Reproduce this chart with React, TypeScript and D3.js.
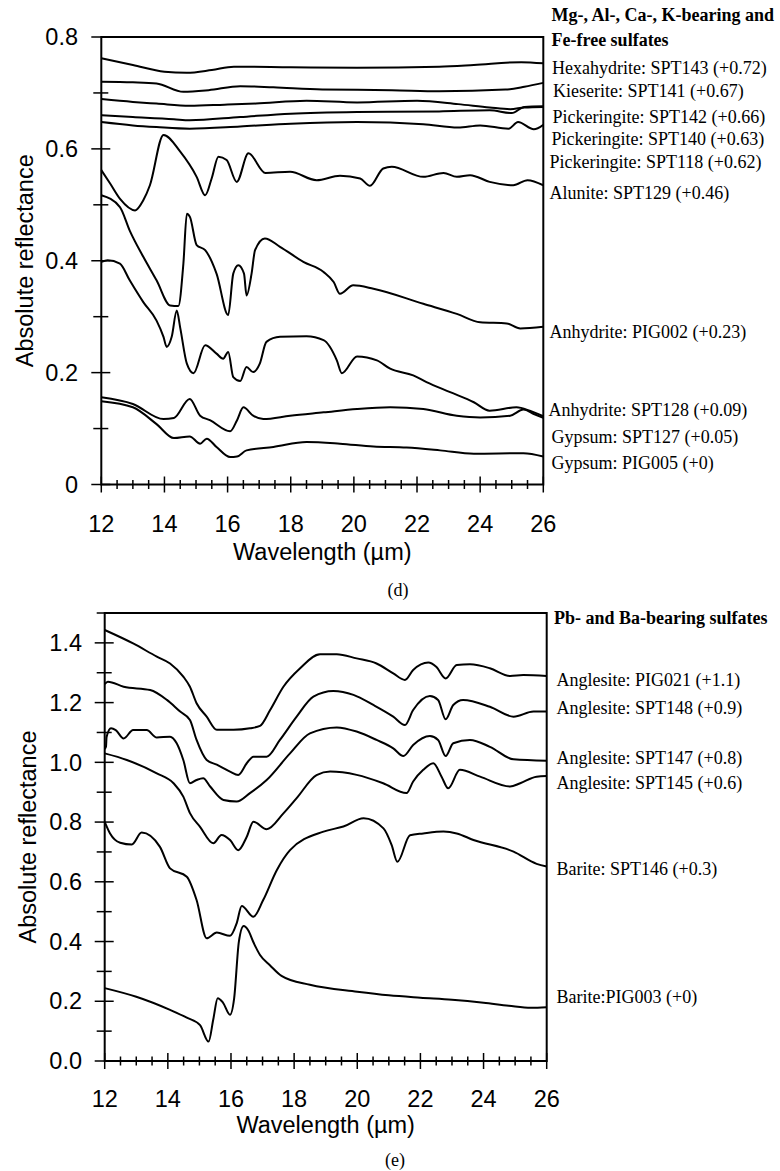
import React from "react";
import * as d3 from "d3";

type P = [number, number];

// ---------- Panel (d) data: wavelength (µm), reflectance (offset included) ----------
const hexahydriteSPT143: P[] = [[12,0.762],[13,0.750],[14,0.738],[14.7,0.736],[15.5,0.741],[16.2,0.747],[18,0.746],[20.1,0.745],[22.7,0.747],[23.8,0.750],[25.3,0.755],[26,0.753]];
const kieseriteSPT141: P[] = [[12,0.720],[13,0.719],[13.75,0.717],[14.6,0.702],[15.4,0.705],[16.4,0.712],[17.45,0.710],[19,0.706],[21.2,0.705],[22.7,0.703],[24.8,0.706],[25.4,0.711],[26,0.718]];
const pickeringiteSPT142: P[] = [[12,0.689],[13,0.684],[13.75,0.681],[14.8,0.677],[15.9,0.679],[16.9,0.681],[18.5,0.686],[20.1,0.683],[22,0.686],[23.3,0.680],[24.3,0.674],[24.95,0.671],[25.4,0.674],[26,0.675]];
const pickeringiteSPT140: P[] = [[12,0.660],[13,0.657],[14.3,0.653],[14.8,0.651],[16.4,0.657],[18,0.663],[20.1,0.666],[22.7,0.667],[24.3,0.669],[25,0.664],[25.4,0.675],[26,0.676]];
const pickeringiteSPT118: P[] = [[12,0.648],[13,0.642],[13.75,0.639],[14.8,0.636],[16.4,0.640],[18,0.645],[20.1,0.648],[22.2,0.644],[23.3,0.638],[24,0.642],[24.9,0.636],[25.2,0.648],[25.7,0.635],[26,0.643]];
const aluniteSPT129: P[] = [[12,0.562],[12.28,0.538],[12.6,0.510],[13.07,0.490],[13.33,0.508],[13.54,0.535],[13.97,0.625],[14.5,0.595],[15.02,0.550],[15.29,0.517],[15.5,0.548],[15.71,0.586],[15.97,0.580],[16.29,0.541],[16.66,0.592],[17.2,0.557],[17.98,0.559],[18.82,0.544],[19.56,0.552],[20.2,0.547],[20.51,0.534],[20.93,0.565],[21.2,0.568],[22.2,0.550],[22.84,0.557],[23.26,0.550],[23.68,0.553],[24.3,0.541],[25.05,0.535],[25.5,0.544],[26,0.535]];
const anhydritePIG002: P[] = [[12,0.517],[12.59,0.496],[12.9,0.454],[13.33,0.407],[13.75,0.365],[14.18,0.320],[14.44,0.319],[14.6,0.395],[14.71,0.484],[14.81,0.478],[15.02,0.428],[15.29,0.419],[15.65,0.377],[16.02,0.303],[16.18,0.377],[16.34,0.392],[16.52,0.377],[16.6,0.338],[16.76,0.377],[16.87,0.419],[17.18,0.440],[17.66,0.425],[18.4,0.398],[19.04,0.380],[19.36,0.362],[19.56,0.341],[19.98,0.356],[20.62,0.350],[22.2,0.323],[23.26,0.305],[24,0.290],[24.84,0.288],[25.27,0.279],[26,0.282]];
const anhydriteSPT128: P[] = [[12,0.398],[12.2,0.401],[12.59,0.395],[12.9,0.365],[13.33,0.326],[13.75,0.293],[13.97,0.264],[14.07,0.246],[14.23,0.264],[14.39,0.311],[14.5,0.280],[14.71,0.216],[14.92,0.199],[15.29,0.249],[15.65,0.234],[15.86,0.225],[16.02,0.237],[16.18,0.192],[16.4,0.185],[16.6,0.210],[16.81,0.201],[17.02,0.216],[17.23,0.255],[17.66,0.264],[18.5,0.265],[19.04,0.258],[19.46,0.222],[19.62,0.199],[20.1,0.229],[20.73,0.222],[21.15,0.207],[21.88,0.195],[22.3,0.183],[23.05,0.165],[23.8,0.147],[24.3,0.132],[25.15,0.138],[25.57,0.132],[26,0.122]];
const gypsumSPT127: P[] = [[12,0.156],[13,0.144],[13.97,0.117],[14.3,0.119],[14.8,0.153],[15.13,0.123],[15.44,0.115],[16.08,0.095],[16.3,0.115],[16.5,0.138],[16.81,0.123],[17.13,0.117],[17.98,0.123],[19.04,0.129],[20.1,0.135],[21.15,0.138],[22.2,0.135],[23.26,0.123],[24,0.120],[24.95,0.123],[25.37,0.134],[25.7,0.126],[26,0.119]];
const gypsumPIG005: P[] = [[12,0.149],[13,0.138],[13.75,0.108],[14.3,0.083],[14.8,0.086],[15.13,0.073],[15.34,0.082],[15.65,0.067],[16.08,0.049],[16.3,0.050],[16.6,0.061],[17.45,0.067],[18.5,0.076],[19.56,0.073],[20.62,0.068],[21.67,0.066],[22.73,0.061],[23.8,0.055],[25.37,0.056],[26,0.050]];

const seriesD = [hexahydriteSPT143, kieseriteSPT141, pickeringiteSPT142, pickeringiteSPT140, pickeringiteSPT118, aluniteSPT129, anhydritePIG002, anhydriteSPT128, gypsumSPT127, gypsumPIG005];
const titleD = ["Mg-, Al-, Ca-, K-bearing and", "Fe-free sulfates"];
const labelsD = ["Hexahydrite: SPT143 (+0.72)", "Kieserite: SPT141 (+0.67)", "Pickeringite: SPT142 (+0.66)", "Pickeringite: SPT140 (+0.63)", "Pickeringite: SPT118 (+0.62)", "Alunite: SPT129 (+0.46)", "Anhydrite: PIG002 (+0.23)", "Anhydrite: SPT128 (+0.09)", "Gypsum: SPT127 (+0.05)", "Gypsum: PIG005 (+0)"];
const labelYD = [68, 91, 117, 139, 162, 193, 332, 410, 437, 463];
const labelXD = [552, 553, 552.5, 551.5, 549.5, 549.5, 549.5, 548.5, 551.5, 551.5];
const yTicksD = [0, 0.2, 0.4, 0.6, 0.8];

// ---------- Panel (e) data ----------
const anglesitePIG021: P[] = [[12,1.443],[12.9,1.398],[13.65,1.354],[14.07,1.331],[14.49,1.287],[14.7,1.253],[14.91,1.198],[15.23,1.153],[15.55,1.109],[16.08,1.109],[16.6,1.114],[16.92,1.122],[17.24,1.175],[17.66,1.253],[18.19,1.315],[18.82,1.362],[19.35,1.362],[19.98,1.348],[20.61,1.331],[21.14,1.298],[21.51,1.276],[21.77,1.309],[22.25,1.334],[22.5,1.320],[22.8,1.281],[23.15,1.326],[23.57,1.328],[24.2,1.315],[24.84,1.289],[25.26,1.292],[26,1.289]];
const anglesiteSPT148: P[] = [[12,1.262],[12.1,1.270],[12.6,1.253],[13.44,1.242],[13.97,1.209],[14.39,1.170],[14.7,1.142],[14.91,1.075],[15.23,1.008],[15.55,0.992],[15.97,0.969],[16.23,0.958],[16.5,0.997],[16.71,1.019],[17.13,1.019],[17.55,1.075],[18.08,1.153],[18.61,1.220],[19.24,1.239],[19.88,1.226],[20.51,1.192],[21.14,1.153],[21.51,1.125],[21.77,1.175],[22.3,1.222],[22.56,1.209],[22.8,1.144],[23.04,1.192],[23.35,1.209],[24.2,1.186],[24.95,1.153],[25.58,1.170],[26,1.170]];
const anglesiteSPT147: P[] = [[12,1.045],[12.04,1.052],[12.06,1.085],[12.2,1.114],[12.35,1.108],[12.6,1.080],[12.9,1.108],[13.33,1.108],[13.65,1.083],[14.07,1.086],[14.28,1.064],[14.49,1.008],[14.7,0.930],[14.91,0.941],[15.12,0.947],[15.34,0.919],[15.76,0.874],[16.18,0.869],[16.6,0.897],[17.13,0.941],[17.87,1.030],[18.5,1.097],[19.35,1.117],[19.98,1.103],[20.61,1.075],[21.14,1.047],[21.46,1.021],[21.77,1.058],[22.3,1.088],[22.56,1.075],[22.8,1.021],[23.04,1.064],[23.57,1.075],[24.2,1.052],[24.95,1.010],[26,1.005]];
const anglesiteSPT145: P[] = [[12,1.030],[12.7,1.008],[13.65,0.963],[14.18,0.930],[14.49,0.885],[14.7,0.830],[15.02,0.784],[15.44,0.729],[15.7,0.757],[15.97,0.740],[16.23,0.706],[16.5,0.751],[16.71,0.801],[17.13,0.776],[17.66,0.829],[18.08,0.880],[18.71,0.957],[19.14,0.969],[19.98,0.958],[20.82,0.930],[21.56,0.897],[21.77,0.936],[22.09,0.975],[22.41,0.997],[22.67,0.952],[22.88,0.913],[23.25,0.975],[23.89,0.952],[24.84,0.919],[25.16,0.930],[25.68,0.952],[26,0.954]];
const bariteSPT146: P[] = [[12,0.801],[12.17,0.762],[12.49,0.731],[12.86,0.725],[13.17,0.765],[13.75,0.717],[14.07,0.645],[14.6,0.617],[14.91,0.539],[15.23,0.411],[15.55,0.430],[15.97,0.419],[16.18,0.461],[16.34,0.519],[16.71,0.483],[17.02,0.539],[17.45,0.639],[17.87,0.706],[18.93,0.768],[19.56,0.785],[20.2,0.813],[20.83,0.779],[21.09,0.723],[21.27,0.667],[21.67,0.756],[22.09,0.762],[22.73,0.768],[23.15,0.762],[23.68,0.740],[24.95,0.701],[25.68,0.660],[26,0.651]];
const baritePIG003: P[] = [[12,0.244],[13,0.215],[14.07,0.171],[14.6,0.145],[15.02,0.120],[15.29,0.065],[15.44,0.140],[15.58,0.210],[15.75,0.195],[15.97,0.155],[16.1,0.210],[16.25,0.400],[16.4,0.452],[16.55,0.437],[16.7,0.400],[16.92,0.355],[17.24,0.320],[17.6,0.285],[18.5,0.255],[20,0.232],[21,0.220],[22,0.212],[23,0.205],[24,0.195],[24.8,0.185],[25.5,0.178],[26,0.180]];

const seriesE = [anglesitePIG021, anglesiteSPT148, anglesiteSPT147, anglesiteSPT145, bariteSPT146, baritePIG003];
const titleE = ["Pb- and Ba-bearing sulfates"];
const labelsE = ["Anglesite: PIG021 (+1.1)", "Anglesite: SPT148 (+0.9)", "Anglesite: SPT147 (+0.8)", "Anglesite: SPT145 (+0.6)", "Barite: SPT146 (+0.3)", "Barite:PIG003 (+0)"];
const labelYE = [680, 708, 758, 783, 869, 997];
const yTicksE = [0, 0.2, 0.4, 0.6, 0.8, 1.0, 1.2, 1.4];

const xTicks = [12, 14, 16, 18, 20, 22, 24, 26];

const SANS = "'Liberation Sans', Arial, sans-serif";
const SERIF = "'Liberation Serif', 'Times New Roman', serif";

type PanelProps = {
  x0: number; x1: number; yTop: number; yBot: number; yMax: number; yMinorStep: number;
  series: P[][]; yTicks: number[]; yFmt: (v: number) => string;
  tickLabelBase: number; xTitleBase: number; capBase: number; cap: string; capX: number;
  yLabelRight: number; yTitleX: number;
  title: string[]; titleY: number[]; titleX: number;
  labels: string[]; labelY: number[]; labelX: number[];
};

function Panel(p: PanelProps) {
  const x = d3.scaleLinear().domain([12, 26]).range([p.x0, p.x1]);
  const y = d3.scaleLinear().domain([0, p.yMax]).range([p.yBot, p.yTop]);
  const line = d3.line<P>().x(d => x(d[0])).y(d => y(d[1])).curve(d3.curveMonotoneX);
  const xMinor = d3.range(12, 26.001, 0.5);
  const yMinor = d3.range(0, p.yMax + 1e-6, p.yMinorStep);
  return (
    <g>
      {p.series.map((s, i) => (
        <path key={i} d={line(s) || ""} fill="none" stroke="#000" strokeWidth={2} strokeLinejoin="round" />
      ))}
      <rect x={p.x0} y={p.yTop} width={p.x1 - p.x0} height={p.yBot - p.yTop} fill="none" stroke="#000" strokeWidth={2} />
      {xMinor.map((t, i) => {
        const major = Math.abs(t - Math.round(t)) < 1e-6 && Math.round(t) % 2 === 0;
        return <line key={i} x1={x(t)} x2={x(t)} y1={p.yBot - (major ? 8 : 4.5)} y2={p.yBot + (major ? 8 : 4.5)} stroke="#000" strokeWidth={1.5} />;
      })}
      {yMinor.map((t, i) => {
        const major = p.yTicks.some(v => Math.abs(v - t) < 1e-6);
        return <line key={i} x1={p.x0 - (major ? 10 : 8)} x2={p.x0 + (major ? 9 : 7)} y1={y(t)} y2={y(t)} stroke="#000" strokeWidth={1.5} />;
      })}
      {xTicks.map(t => (
        <text key={t} x={x(t)} y={p.tickLabelBase} textAnchor="middle" fontFamily={SANS} fontSize={23.5}>{t}</text>
      ))}
      {p.yTicks.map(t => (
        <text key={t} x={p.yLabelRight} y={y(t)} dy="0.35em" textAnchor="end" fontFamily={SANS} fontSize={23.5}>{p.yFmt(t)}</text>
      ))}
      <text x={(p.x0 + p.x1) / 2} y={p.xTitleBase} textAnchor="middle" fontFamily={SANS} fontSize={23.5}>Wavelength (µm)</text>
      <text transform={`translate(${p.yTitleX},${(p.yTop + p.yBot) / 2}) rotate(-90)`} dy="0.35em" textAnchor="middle" fontFamily={SANS} fontSize={23.5}>Absolute reflectance</text>
      <text x={p.capX} y={p.capBase} textAnchor="middle" fontFamily={SERIF} fontSize={18}>{p.cap}</text>
      {p.title.map((t, i) => (
        <text key={i} x={p.titleX} y={p.titleY[i]} dy="0.35em" fontFamily={SERIF} fontWeight="bold" fontSize={18}>{t}</text>
      ))}
      {p.labels.map((t, i) => (
        <text key={i} x={p.labelX[i]} y={p.labelY[i]} dy="0.35em" fontFamily={SERIF} fontSize={18}>{t}</text>
      ))}
    </g>
  );
}

export default function App() {
  return (
    <svg width={780} height={1171} style={{ position: "absolute", left: 0, top: 0, background: "#fff" }}>
      <rect width={780} height={1171} fill="#fff" />
      <Panel x0={101.3} x1={543.3} yTop={37} yBot={484.5} yMax={0.8} yMinorStep={0.1}
        series={seriesD} yTicks={yTicksD} yFmt={v => (v === 0 ? "0" : d3.format(".1f")(v))}
        tickLabelBase={532} xTitleBase={560} capBase={596} cap="(d)" capX={398}
        yLabelRight={78} yTitleX={25}
        title={titleD} titleY={[15, 40]} titleX={551.5}
        labels={labelsD} labelY={labelYD} labelX={labelXD} />
      <Panel x0={104.7} x1={546.7} yTop={613} yBot={1061} yMax={1.5} yMinorStep={0.1}
        series={seriesE} yTicks={yTicksE} yFmt={v => d3.format(".1f")(v)}
        tickLabelBase={1107} xTitleBase={1133} capBase={1166} cap="(e)" capX={395}
        yLabelRight={82} yTitleX={28}
        title={titleE} titleY={[618]} titleX={554}
        labels={labelsE} labelY={labelYE} labelX={labelsE.map(() => 556.5)} />
    </svg>
  );
}
